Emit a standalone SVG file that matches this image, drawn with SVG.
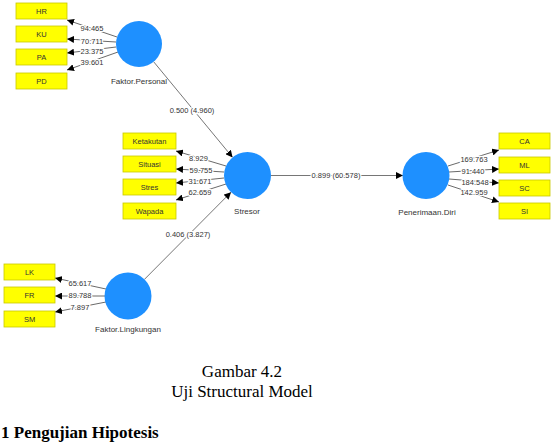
<svg xmlns="http://www.w3.org/2000/svg" width="554" height="445" viewBox="0 0 554 445">
<defs>
<marker id="ah" viewBox="0 0 10 10" refX="10" refY="5" markerWidth="7" markerHeight="7" markerUnits="userSpaceOnUse" orient="auto">
<path d="M0,0 L10,5 L0,10 z" fill="#000"/>
</marker>
</defs>
<style>
.lv{fill:#1e90ff;}
.ind{fill:#ffff00;stroke:#c8c800;stroke-width:0.8;}
.t{font-family:"Liberation Sans","DejaVu Sans",sans-serif;font-size:7.5px;fill:#333;text-anchor:middle;}
.n{font-family:"Liberation Sans","DejaVu Sans",sans-serif;font-size:8px;fill:#333;text-anchor:middle;}
.v{font-family:"Liberation Sans","DejaVu Sans",sans-serif;font-size:7.5px;fill:#333;text-anchor:middle;paint-order:stroke;stroke:#fff;stroke-width:2.5px;stroke-linejoin:round;}
.ld{stroke:#444;stroke-width:0.8;fill:none;marker-end:url(#ah);}
.st{stroke:#666;stroke-width:0.9;fill:none;marker-end:url(#ah);}
.cap{font-family:"Liberation Serif","Times New Roman",serif;font-size:17px;fill:#000;text-anchor:middle;}
.hd{font-family:"Liberation Serif","Times New Roman",serif;font-size:17px;font-weight:bold;fill:#000;}
</style>
<rect width="554" height="445" fill="#fff"/>
<g id="connectors">
<line class="ld" x1="117" y1="37" x2="67" y2="20"/>
<line class="ld" x1="116" y1="42" x2="67" y2="39"/>
<line class="ld" x1="116" y1="47" x2="67" y2="53"/>
<line class="ld" x1="118" y1="52" x2="67" y2="70"/>
<line class="ld" x1="226" y1="166" x2="176" y2="151"/>
<line class="ld" x1="224" y1="172" x2="176" y2="169"/>
<line class="ld" x1="224" y1="178" x2="176" y2="183"/>
<line class="ld" x1="226" y1="184" x2="176" y2="200"/>
<line class="ld" x1="448" y1="166" x2="499" y2="150"/>
<line class="ld" x1="449" y1="172" x2="499" y2="169"/>
<line class="ld" x1="449" y1="179" x2="499" y2="183"/>
<line class="ld" x1="448" y1="185" x2="499" y2="202"/>
<line class="ld" x1="106" y1="289" x2="55" y2="278"/>
<line class="ld" x1="105" y1="296" x2="55" y2="296"/>
<line class="ld" x1="106" y1="302" x2="55" y2="312"/>
<line class="st" x1="153.6" y1="61.7" x2="232.6" y2="157.4"/>
<line class="st" x1="144.5" y1="279.3" x2="231" y2="192.2"/>
<line class="st" x1="271" y1="175.5" x2="403" y2="175.5"/>
<text class="v" x="92" y="30.5">94.465</text>
<text class="v" x="92" y="43.5">70.711</text>
<text class="v" x="92" y="53.5">23.375</text>
<text class="v" x="92" y="64.5">39.601</text>
<text class="v" x="198.5" y="160.5">8.929</text>
<text class="v" x="201" y="172.5">59.755</text>
<text class="v" x="200" y="183.5">31.671</text>
<text class="v" x="200" y="194.5">62.659</text>
<text class="v" x="474" y="161.5">169.763</text>
<text class="v" x="473" y="173.5">91.440</text>
<text class="v" x="475" y="184.5">184.548</text>
<text class="v" x="474" y="194.5">142.959</text>
<text class="v" x="80" y="285.5">65.617</text>
<text class="v" x="80" y="297.5">89.788</text>
<text class="v" x="80" y="309.5">7.897</text>
<text class="v" x="192" y="112.5">0.500 (4.960)</text>
<text class="v" x="188" y="236.5">0.406 (3.827)</text>
<text class="v" x="336" y="178">0.899 (60.578)</text>
</g>
<g id="faktor-personal">
<circle class="lv" cx="139" cy="44" r="23"/>
<text class="n" x="139" y="84">Faktor.Personal</text>
</g>
<g id="stresor">
<circle class="lv" cx="247.5" cy="175.5" r="23.5"/>
<text class="n" x="247" y="213.5">Stresor</text>
</g>
<g id="penerimaan-diri">
<circle class="lv" cx="426" cy="175.5" r="23.5"/>
<text class="n" x="427" y="215">Penerimaan.Diri</text>
</g>
<g id="faktor-lingkungan">
<circle class="lv" cx="128" cy="296" r="23.5"/>
<text class="n" x="128" y="331.5">Faktor.Lingkungan</text>
</g>
<g id="HR"><rect class="ind" x="16" y="3" width="51" height="16"/><text class="t" x="41.5" y="13.5">HR</text></g>
<g id="KU"><rect class="ind" x="16" y="26" width="51" height="16"/><text class="t" x="41.5" y="36.5">KU</text></g>
<g id="PA"><rect class="ind" x="16" y="49" width="51" height="16"/><text class="t" x="41.5" y="59.5">PA</text></g>
<g id="PD"><rect class="ind" x="16" y="73" width="51" height="16"/><text class="t" x="41.5" y="83.5">PD</text></g>
<g id="Ketakutan"><rect class="ind" x="123" y="133" width="53" height="16"/><text class="t" x="149.5" y="143.5">Ketakutan</text></g>
<g id="Situasi"><rect class="ind" x="123" y="156" width="53" height="16"/><text class="t" x="149.5" y="166.5">Situasi</text></g>
<g id="Stres"><rect class="ind" x="123" y="179" width="53" height="16"/><text class="t" x="149.5" y="189.5">Stres</text></g>
<g id="Wapada"><rect class="ind" x="123" y="203" width="53" height="16"/><text class="t" x="149.5" y="213.5">Wapada</text></g>
<g id="CA"><rect class="ind" x="499" y="133" width="51" height="16"/><text class="t" x="524.5" y="143.5">CA</text></g>
<g id="ML"><rect class="ind" x="499" y="157" width="51" height="16"/><text class="t" x="524.5" y="167.5">ML</text></g>
<g id="SC"><rect class="ind" x="499" y="180" width="51" height="16"/><text class="t" x="524.5" y="190.5">SC</text></g>
<g id="SI"><rect class="ind" x="499" y="203" width="51" height="16"/><text class="t" x="524.5" y="213.5">SI</text></g>
<g id="LK"><rect class="ind" x="4" y="264" width="51" height="16"/><text class="t" x="29.5" y="274.5">LK</text></g>
<g id="FR"><rect class="ind" x="4" y="287" width="51" height="16"/><text class="t" x="29.5" y="297.5">FR</text></g>
<g id="SM"><rect class="ind" x="4" y="311" width="51" height="16"/><text class="t" x="29.5" y="321.5">SM</text></g>
<text class="cap" x="242" y="377">Gambar 4.2</text>
<text class="cap" x="242" y="397">Uji Structural Model</text>
<text class="hd" x="1" y="438">1 Pengujian Hipotesis</text>
</svg>
